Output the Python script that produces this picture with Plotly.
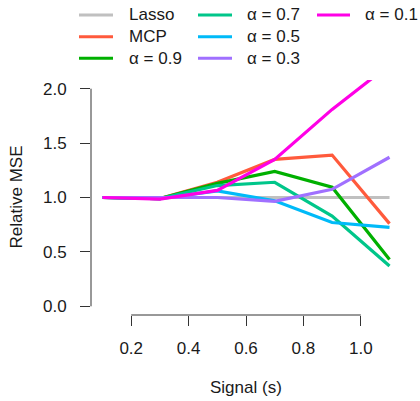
import plotly.graph_objects as go

# ---- data ----
signal = [0.1, 0.3, 0.5, 0.7, 0.9, 1.1]
lasso = [1.0, 1.0, 1.0, 1.0, 1.0, 1.0]
mcp = [1.0, 0.99, 1.14, 1.35, 1.39, 0.76]
a09 = [1.0, 0.99, 1.13, 1.24, 1.095, 0.43]
a07 = [1.0, 0.99, 1.11, 1.14, 0.83, 0.37]
a05 = [1.0, 0.99, 1.06, 0.97, 0.77, 0.725]
a03 = [1.0, 1.0, 1.0, 0.965, 1.075, 1.37]
a01 = [1.0, 0.985, 1.065, 1.35, 1.81, 2.22]

names = ["Lasso", "MCP", "α = 0.9", "α = 0.7", "α = 0.5", "α = 0.3", "α = 0.1"]
series = [lasso, mcp, a09, a07, a05, a03, a01]
colors = ["#C0C0C0", "#FF5A3C", "#00B000", "#00C68A", "#00BAF8", "#A070FF", "#FF00E6"]

x_ticks = [0.2, 0.4, 0.6, 0.8, 1.0]
x_ticktext = ["0.2", "0.4", "0.6", "0.8", "1.0"]
y_ticks = [0.0, 0.5, 1.0, 1.5, 2.0]
y_ticktext = ["0.0", "0.5", "1.0", "1.5", "2.0"]

FONT = "Liberation Sans, Arial, sans-serif"
FS = 17
W, H = 420, 401
# plot area in page pixels: x 91..401, y 80..315
ML, MR, MT, MB = 91, 19, 80, 86
PW, PH = W - ML - MR, H - MT - MB

def px_x(px):  # page pixel -> paper
    return (px - ML) / PW

def px_y(py):
    return (H - MB - py) / PH

fig = go.Figure()
for name, ys, c in zip(names, series, colors):
    fig.add_trace(go.Scatter(x=signal, y=ys, mode="lines", name=name,
                             line=dict(color=c, width=3.2), showlegend=False,
                             hoverinfo="skip"))

axis_col = "#333333"
txt_col = "#1a1a1a"
fig.update_layout(
    width=W, height=H,
    margin=dict(l=ML, r=MR, t=MT, b=MB),
    paper_bgcolor="white", plot_bgcolor="white",
    font=dict(family=FONT, size=FS, color=txt_col),
    xaxis=dict(range=[0.06, 1.14], showgrid=False, zeroline=False, showline=False,
               tickvals=x_ticks, ticktext=x_ticktext, ticks="outside", ticklen=10,
               tickwidth=1, tickcolor=axis_col, ticklabelstandoff=8,
               tickfont=dict(size=FS, color=txt_col)),
    yaxis=dict(range=[-0.08, 2.08], showgrid=False, zeroline=False, showline=False,
               tickvals=y_ticks, ticktext=y_ticktext, ticks="outside", ticklen=10,
               tickwidth=1, tickcolor=axis_col, ticklabelstandoff=10,
               tickfont=dict(size=FS, color=txt_col)),
)

# axis lines spanning first to last tick (R style)
fig.add_shape(type="line", xref="x", yref="paper", x0=x_ticks[0], x1=x_ticks[-1], y0=0, y1=0,
              line=dict(color=axis_col, width=1))
fig.add_shape(type="line", xref="paper", yref="y", x0=0, x1=0, y0=y_ticks[0], y1=y_ticks[-1],
              line=dict(color=axis_col, width=1))

# axis titles
fig.add_annotation(text="Signal (s)", xref="paper", yref="paper", x=0.5, y=px_y(387),
                   showarrow=False, xanchor="center", yanchor="middle",
                   font=dict(size=FS, color=txt_col))
fig.add_annotation(text="Relative MSE", xref="paper", yref="paper", x=px_x(16), y=0.5,
                   showarrow=False, textangle=-90,
                   xanchor="center", yanchor="middle", font=dict(size=FS, color=txt_col))

# legend (3 columns, column-major)
col_line = [(79, 113), (198, 232), (317, 350)]
col_text = [127, 245, 363]
row_y = [15, 36.7, 58.3]
for i, (name, c) in enumerate(zip(names, colors)):
    col, row = i // 3, i % 3
    y = px_y(row_y[row])
    fig.add_shape(type="line", xref="paper", yref="paper",
                  x0=px_x(col_line[col][0]), x1=px_x(col_line[col][1]), y0=y, y1=y,
                  line=dict(color=c, width=3))
    fig.add_annotation(text=name, xref="paper", yref="paper", x=px_x(col_text[col]), y=y,
                       showarrow=False, xanchor="left", yanchor="middle",
                       font=dict(size=FS, color=txt_col))

# remove the default page margin so the figure sits at the window's top-left corner
fig.write_html("out.html", config={"displayModeBar": False},
               post_script="document.body.style.margin='0';")
